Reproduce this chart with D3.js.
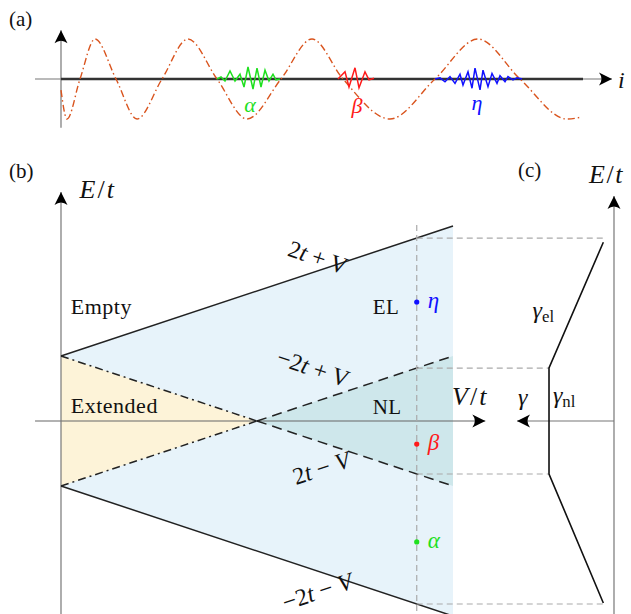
<!DOCTYPE html>
<html>
<head>
<meta charset="utf-8">
<script src="https://cdn.jsdelivr.net/npm/d3@7"></script>
<style>
  body { margin: 0; background: #fff; }
</style>
</head>
<body>
<div class="canvas"></div>
<script>
const WIDTH = 631,
  HEIGHT = 614,
  FONT = "'Liberation Serif', 'Times New Roman', 'DejaVu Serif', serif";

// (a) chain: slow envelope wave (site, amplitude)
const waveSite = [0, 1.2, 3.8, 6.8, 11, 15.2, 20.2, 25.4, 31.2, 37.2, 44, 50.2, 56.4, 65.8, 74.8, 83.4, 91.8, 101.2, 104.2];
const waveAmp = [-0.28, -1, 0, 1, 0, -1, 0, 1, 0, -1, 0, 1, 0, -1, 0, 1, 0, -1, -0.95];

// (a) localized packets, zigzag vertices (site, amplitude)
const alphaSite = [31.2, 32, 32.8, 33.8, 34.8, 35.8, 36.6, 37.4, 38.4, 39.2, 40, 40.8, 41.6, 42.4, 43, 43.8];
const alphaAmp = [0, 0.05, -0.05, 0.2, -0.05, 0.12, -0.2, 0.3, -0.25, 0.27, -0.2, 0.22, -0.05, 0.12, -0.02, 0];
const betaSite = [55.4, 56.8, 57.6, 58.8, 59.6, 60.8, 61.6, 62.6];
const betaAmp = [0, 0.18, -0.2, 0.28, -0.22, 0.18, -0.02, 0.02];
const etaSite = [74.8, 75.8, 76.8, 77.8, 78.8, 79.8, 80.4, 81.4, 82.2, 82.8, 83.8, 84.4, 85.4, 86.2, 87.2, 87.8, 88.8, 89.4, 90.4, 91.2, 92.2];
const etaAmp = [0, 0.03, -0.07, 0.06, -0.11, 0.12, -0.15, 0.18, -0.23, 0.27, -0.27, 0.22, -0.19, 0.14, -0.11, 0.08, -0.07, 0.06, -0.02, 0.03, 0];

// (b) phase diagram
const V_MAX = 4;
const BAND = 2; // 2t
const probeV = 3.63;
const stateNames = ["η", "β", "α"];
const stateE = [3.66, -0.71, -3.72];
const stateColors = ["#1010ff", "#ff1a1a", "#1fe01f"];
const regionNames = ["Empty", "Extended", "EL", "NL"];
const regionV = [0.1, 0.1, 3.18, 3.18];
const regionE = [3.3, 0.25, 3.3, 0.22];

// (c) gamma vs E
const gammaE = [5.5, 1.63, -1.63, -5.6];
const gammaVal = [0.11, 0.67, 0.67, 0.11];
const guideE = [5.63, 1.63, -1.63, -5.63];
const guideGamma = [0.09, 0.67, 0.67, 0.09];

let svg, xSite, yAmp, xV, yE, xGamma;

document.addEventListener("DOMContentLoaded", function () {
  setSVG();
  setScales();
  drawPanelA();
  drawPanelB();
  drawPanelC();
});

function setSVG() {
  svg = d3
    .select(".canvas")
    .append("svg")
    .attr("width", WIDTH)
    .attr("height", HEIGHT)
    .attr("font-family", FONT);

  svg
    .append("defs")
    .append("marker")
    .attr("id", "arrow")
    .attr("markerUnits", "userSpaceOnUse")
    .attr("viewBox", "-14 -7 15 14")
    .attr("markerWidth", 15)
    .attr("markerHeight", 14)
    .attr("refX", 0)
    .attr("refY", 0)
    .attr("orient", "auto")
    .append("path")
    .attr("d", "M0,0 L-13,-6.5 Q-8,0 -13,6.5 Z")
    .attr("fill", "#000");
}

function setScales() {
  xSite = d3.scaleLinear().domain([0, 110]).range([61, 611]);
  yAmp = d3.scaleLinear().domain([-1, 1]).range([119, 39]);

  xV = d3.scaleLinear().domain([0, V_MAX]).range([61, 453]);
  yE = d3.scaleLinear().domain([-6, 6]).range([616, 226]);

  xGamma = d3.scaleLinear().domain([0, 1]).range([614, 517]);
}

function axisLine(x1, y1, x2, y2, color, width, arrow) {
  const line = svg
    .append("line")
    .attr("x1", x1)
    .attr("y1", y1)
    .attr("x2", x2)
    .attr("y2", y2)
    .attr("stroke", color)
    .attr("stroke-width", width);
  if (arrow) line.attr("marker-end", "url(#arrow)");
  return line;
}

function label(x, y, parts, size, color, anchor) {
  const t = svg
    .append("text")
    .attr("x", x)
    .attr("y", y)
    .attr("font-family", FONT)
    .attr("font-size", size)
    .attr("text-anchor", anchor || "start")
    .attr("fill", color || "#111");
  parts.forEach(([str, italic, sub]) => {
    const span = t.append("tspan").text(str);
    if (italic) span.attr("font-style", "italic");
    if (sub) span.attr("font-size", size * 0.7).attr("dy", 4);
  });
  return t;
}

function drawPanelA() {
  const y0 = yAmp(0);

  axisLine(xSite(-5.2), y0, xSite(110.2), y0, "#777", 1.2, true);
  axisLine(xSite(0), yAmp(-1.22), xSite(0), yAmp(1.22), "#777", 1.2, true);
  axisLine(xSite(0), y0, xSite(104.4), y0, "#333", 2.4, false);

  const line = d3
    .line()
    .x((d) => xSite(d[0]))
    .y((d) => yAmp(d[1]));

  svg
    .append("path")
    .attr("d", line.curve(d3.curveMonotoneX)(d3.zip(waveSite, waveAmp)))
    .attr("fill", "none")
    .attr("stroke", "#d9541e")
    .attr("stroke-width", 1.4)
    .attr("stroke-dasharray", "7,3,1.5,3");

  const packets = [
    [alphaSite, alphaAmp, stateColors[2]],
    [betaSite, betaAmp, stateColors[1]],
    [etaSite, etaAmp, stateColors[0]],
  ];
  packets.forEach(([s, a, c]) => {
    svg
      .append("path")
      .attr("d", line.curve(d3.curveLinear)(d3.zip(s, a)))
      .attr("fill", "none")
      .attr("stroke", c)
      .attr("stroke-width", 1.5)
      .attr("stroke-linejoin", "miter");
  });

  label(xSite(37.8), 112, [["α", true]], 22, stateColors[2], "middle");
  label(xSite(59.2), 113, [["β", true]], 22, stateColors[1], "middle");
  label(xSite(83.2), 110, [["η", true]], 22, stateColors[0], "middle");

  label(618, 88, [["i", true]], 24, "#111");
  label(9, 26, [["(a)"]], 21);
}

function drawPanelB() {
  const pt = (v, e) => [xV(v), yE(e)];
  const poly = (pts) => "M" + pts.map((p) => pt(p[0], p[1]).join(",")).join("L") + "Z";

  svg
    .append("path")
    .attr("d", poly([[0, BAND], [V_MAX, BAND + V_MAX], [V_MAX, -BAND - V_MAX], [0, -BAND]]))
    .attr("fill", "#e7f3fa");
  svg
    .append("path")
    .attr("d", poly([[0, BAND], [BAND, 0], [0, -BAND]]))
    .attr("fill", "#fdf3d8");
  svg
    .append("path")
    .attr("d", poly([[BAND, 0], [V_MAX, V_MAX - BAND], [V_MAX, BAND - V_MAX]]))
    .attr("fill", "#cee7eb");

  // axes
  axisLine(xV(-0.265), yE(0), xV(4.33), yE(0), "#666", 1.2, true);
  axisLine(xV(0), yE(-6.1), xV(0), yE(7.05), "#777", 1.2, true);

  // band edges
  const seg = (v1, e1, v2, e2, dash) =>
    svg
      .append("line")
      .attr("x1", xV(v1))
      .attr("y1", yE(e1))
      .attr("x2", xV(v2))
      .attr("y2", yE(e2))
      .attr("stroke", "#222")
      .attr("stroke-width", 1.5)
      .attr("stroke-dasharray", dash);

  seg(0, BAND, V_MAX, BAND + V_MAX, null);
  seg(0, -BAND, V_MAX, -BAND - V_MAX, null);
  seg(0, BAND, BAND, 0, "8,4,2,4");
  seg(0, -BAND, BAND, 0, "8,4,2,4");
  seg(BAND, 0, V_MAX, V_MAX - BAND, "10,6");
  seg(BAND, 0, V_MAX, BAND - V_MAX, "10,6");

  // guides from the probe V
  svg
    .append("line")
    .attr("x1", xV(probeV))
    .attr("x2", xV(probeV))
    .attr("y1", yE(6.03))
    .attr("y2", yE(-6.2))
    .attr("stroke", "#aaa")
    .attr("stroke-width", 1.2)
    .attr("stroke-dasharray", "6,4");

  guideE.forEach((e, i) => {
    svg
      .append("line")
      .attr("x1", xV(probeV))
      .attr("x2", xGamma(guideGamma[i]))
      .attr("y1", yE(e))
      .attr("y2", yE(e))
      .attr("stroke", "#aaa")
      .attr("stroke-width", 1.2)
      .attr("stroke-dasharray", "6,4");
  });

  // states
  stateE.forEach((e, i) => {
    svg
      .append("circle")
      .attr("cx", xV(probeV))
      .attr("cy", yE(e))
      .attr("r", 2.6)
      .attr("fill", stateColors[i]);
    label(xV(probeV) + 11, yE(e) + 6, [[stateNames[i], true]], 23, stateColors[i]);
  });

  // region names
  regionNames.forEach((name, i) => {
    label(xV(regionV[i]), yE(regionE[i]), [[name]], i < 2 ? 22 : 21).attr("letter-spacing", 0.5);
  });

  // line labels
  const angle = (Math.atan2(yE(1) - yE(0), xV(1) - xV(0)) * 180) / Math.PI;
  const lineLabels = [
    [2.62, 5.0, -angle, [["2"], ["t", true], [" + V"]]],
    [2.57, 1.6, -angle, [["−2"], ["t", true], [" + V"]]],
    [2.66, -1.48, angle, [["2"], ["t", true], [" − "], ["V", true]]],
    [2.62, -5.28, angle, [["−2"], ["t", true], [" − "], ["V", true]]],
  ];
  lineLabels.forEach(([v, e, a, parts]) => {
    label(0, 7, parts, 24, "#111", "middle")
      .attr("transform", `translate(${xV(v)},${yE(e)}) rotate(${a})`);
  });

  label(xV(0.19), 198, [["E", true], ["/"], ["t", true]], 26).attr("letter-spacing", 2);
  label(xV(3.99), 405, [["V", true], ["/"], ["t", true]], 26).attr("letter-spacing", 2);
  label(9, 178, [["(b)"]], 21);
}

function drawPanelC() {
  axisLine(xGamma(0), yE(-6.2), xGamma(0), yE(6.92), "#777", 1.2, true);
  axisLine(xGamma(0), yE(0), xGamma(1), yE(0), "#777", 1.2, true);

  const line = d3
    .line()
    .x((d) => xGamma(d[0]))
    .y((d) => yE(d[1]));

  svg
    .append("path")
    .attr("d", line(d3.zip(gammaVal, gammaE)))
    .attr("fill", "none")
    .attr("stroke", "#111")
    .attr("stroke-width", 1.6);

  label(xGamma(0.99), 405, [["γ", true]], 24);
  label(xGamma(0.63), 403, [["γ", true], ["nl", false, true]], 24);
  label(xGamma(0.84), 318, [["γ", true], ["el", false, true]], 24);
  label(518, 177, [["(c)"]], 21);
  label(589, 183, [["E", true], ["/"], ["t", true]], 26).attr("letter-spacing", 1.5);
}
</script>
</body>
</html>
